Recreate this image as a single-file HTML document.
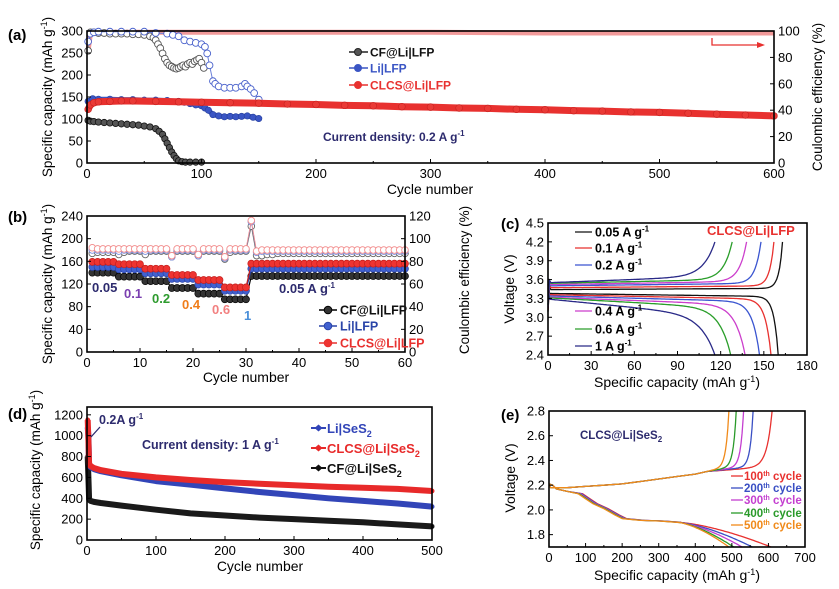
<!DOCTYPE html>
<html><head><meta charset="utf-8">
<style>
html,body{margin:0;padding:0;background:#fff;}
svg{display:block;font-family:"Liberation Sans",Arial,sans-serif;}
</style></head>
<body>
<svg id="fig" width="839" height="589" viewBox="0 0 839 589" xmlns="http://www.w3.org/2000/svg"></svg>
<script>
// ---------- Panel (a) data ----------
const aCfCapCyc=[1,3,6,10,15,20,25,30,35,40,45,50,55,60,63,66,68,70,72,74,76,78,80,83,86,90,95,100];
const aCfCap=[97,95,94,93,92,91,90,89,88,87,86,84,82,78,72,65,55,45,35,25,17,10,5,3,2,2,2,2];
const aCfCeCyc=[1,3,6,10,15,20,25,30,35,40,45,50,55,58,60,62,64,66,68,70,72,74,76,78,80,82,84,86,88,90,92,94,96,98,100,102];
const aCfCe=[85,99,99,98.5,98.5,98,98,98,98,97.5,97.5,97,96,95,93,90,87,83,79,76,74,73,72,71.5,72,73,74,73,75,76,75,77,78,79,76,72];
const aLiCapCyc=[1,5,10,20,30,40,50,60,70,80,85,90,95,100,103,106,110,115,120,125,130,135,140,145,150];
const aLiCap=[140,146,145,145,144,144,143,143,142,140,138,135,132,130,125,120,110,107,105,106,105,106,107,104,101];
const aLiCeCyc=[1,3,6,10,20,30,40,50,60,70,75,80,85,90,95,100,103,105,107,110,112,115,120,125,130,135,138,140,143,146,150];
const aLiCe=[92,98,99,99.5,99.5,99.5,99.5,99.5,98.5,98,97,96,93,92,91,90,88,83,74,62,60,58,57,57,57,58,60,58,56,53,48];
const aClCapCyc=[1,3,6,10,20,30,40,60,80,100,125,150,175,200,225,250,275,300,325,350,375,400,425,450,475,500,525,550,575,600];
const aClCap=[122,132,137,139,140,141,141,140,139,138,137,136,134,133,131,130,128,127,125,124,122,121,119,118,116,115,113,111,109,107];
const aClCeCyc=[1,3,10,100,200,300,400,500,600];
const aClCe=[85,98,99,99,99,99,98.5,98.5,98.5];
// ---------- Panel (b) data ----------
const bSegLen=[5,5,5,5,5,5,30];
const bCapCF=[140,133,125,113,103,93,134];
const bCapLi=[150,146,139,129,119,108,147];
const bCapCL=[159,155,147,136,127,114,156];
const bCeCL=[92,91,91,91,91,91,91,91,91,91,91,91,91,91,91,85,91,91,91,91,86,91,91,91,91,84,91,91,91,91,116,89,90,90,90,90,90,90,90,90,90,90,90,90,90,90,90,90,90,90,90,90,90,90,90,90,90,90,90,90];
const bCeLi=[90,90,90,90,90,89,90,90,90,90,89,90,90,90,90,84,90,90,90,90,85,90,90,90,90,83,90,90,90,90,115,88,89,89,89,89,89,89,89,89,89,89,89,89,89,89,89,89,89,89,89,89,89,89,89,89,89,89,89,89];
const bCeCF=[87,88,88,88,88,86,88,89,89,89,86,89,89,89,89,84,89,89,89,89,85,89,89,89,89,82,88,89,89,89,111,85,85,86,86,87,87,87,87,87,87,87,87,87,87,87,87,87,87,87,87,87,87,87,87,87,87,87,87,87];
const bRateLabels=['0.05','0.1','0.2','0.4','0.6','1'];
// ---------- Panel (c) data ----------
const cRates=['0.05','0.1','0.2','0.4','0.6','1'];
const cChgPlat=[3.44,3.47,3.50,3.52,3.54,3.55];
const cChgSlope=[0.02,0.03,0.04,0.05,0.06,0.10];
const cChgEnd=[163,157,148,138,128,116];
const cDisPlat=[3.38,3.36,3.34,3.32,3.31,3.29];
const cDisSlope=[0.05,0.07,0.09,0.12,0.16,0.26];
const cDisEnd=[160,155,147,137,127,116];
// ---------- Panel (d) data ----------
const dCyc=[1,2,3,5,10,20,50,100,150,200,250,300,350,400,450,500];
const dLi=[1080,1000,720,700,680,660,620,565,530,495,460,430,400,375,350,320];
const dCL=[1150,960,730,710,690,670,635,600,575,555,540,525,510,500,490,470];
const dCF=[800,600,390,375,365,355,330,290,255,235,215,200,185,170,150,130];
// ---------- Panel (e) data ----------
const eCycles=['100','200','300','400','500'];
const eChgEnd=[610,558,532,512,492];
const eDisEnd=[607,556,528,505,492];
const eChgQ=[5,50,100,150,200,250,300,350,400,430];
const eChgV=[2.18,2.18,2.19,2.20,2.21,2.23,2.25,2.27,2.29,2.31];
const eDisQ=[0,10,20,50,80,100,120,150,180,200,250,300,350];
const eDisV=[2.21,2.2,2.17,2.15,2.13,2.09,2.05,2.01,1.96,1.93,1.915,1.91,1.9];

const NS='http://www.w3.org/2000/svg';
const svg=document.getElementById('fig');
function mk(tag,attrs,parent){const e=document.createElementNS(NS,tag);for(const k in attrs)e.setAttribute(k,attrs[k]);(parent||svg).appendChild(e);return e;}
function txt(s,attrs,parent){const e=mk('text',attrs,parent);e.innerHTML=s;return e;}
function scale(d0,d1,r0,r1){return v=>r0+(v-d0)*(r1-r0)/(d1-d0);}
const SUP1='g<tspan font-size="9" dy="-5">-1</tspan><tspan dy="5">)</tspan>';

function axes(name,o){
  const g=mk('g',{});
  
  
  o.xticks.forEach(v=>{const x=o.sx(v);
    mk('line',{x1:x,x2:x,y1:o.yB,y2:o.yB-4,stroke:'#000','stroke-width':1},g);
    const t=txt(o.xfmt?o.xfmt(v):String(v),{x:x,y:o.yB+15,'text-anchor':'middle','font-size':13},g);
    
    
    if(o.xminor){const x2=o.sx(v+o.xminor);if(x2<o.x1){mk('line',{x1:x2,x2:x2,y1:o.yB,y2:o.yB-2,stroke:'#000'},g);}}
  });
  o.yticks.forEach(v=>{const y=o.sy(v);
    mk('line',{x1:o.x0,x2:o.x0+4,y1:y,y2:y,stroke:'#000','stroke-width':1},g);
    const t=txt(o.yfmt?o.yfmt(v):String(v),{x:o.x0-4,y:y+4.5,'text-anchor':'end','font-size':13},g);
    
    
  });
  if(o.rticks){o.rticks.forEach(v=>{const y=o.sr(v);
    mk('line',{x1:o.x1,x2:o.x1-4,y1:y,y2:y,stroke:'#000'},g);
    const t=txt(String(v),{x:o.x1+4,y:y+4.5,'font-size':13},g);
    
    
  });}
  const r=mk('rect',{x:o.x0,y:o.yT,width:o.x1-o.x0,height:o.yB-o.yT,fill:'none',stroke:'#000','stroke-width':1.6},g);
  
  return g;
}
function poly(pts,attrs,parent){return mk('polyline',Object.assign({points:pts.map(p=>p[0].toFixed(1)+','+p[1].toFixed(1)).join(' '),fill:'none'},attrs),parent);}
function label(s,x,y,attrs){const t=txt(s,Object.assign({x:x,y:y},attrs));return t;}
function ytitle(s,x,cy,fs){return txt(s,{x:0,y:0,'font-size':fs||14,'text-anchor':'middle',transform:`translate(${x},${cy}) rotate(-90)`});}

// ================= Panel (a) =================
const A={x0:87,x1:774,yT:31,yB:163};
A.sx=scale(0,600,A.x0,A.x1);A.sy=scale(0,300,A.yB,A.yT);A.sr=scale(0,100,A.yB,A.yT);
A.xticks=[0,100,200,300,400,500,600];A.yticks=[0,50,100,150,200,250,300];A.rticks=[0,20,40,60,80,100];A.xminor=50;
const gA=mk('g',{});


let s=poly(aClCeCyc.map((c,i)=>[A.sx(c),A.sr(aClCe[i])]),{stroke:'#f29a9a','stroke-width':5},gA);


const gCfCe=mk('g',{},gA);


poly(aCfCeCyc.map((c,i)=>[A.sx(c),A.sr(aCfCe[i])]),{stroke:'#777','stroke-width':1},gCfCe);
aCfCeCyc.forEach((c,i)=>{const p=mk('circle',{cx:A.sx(c),cy:A.sr(aCfCe[i]),r:3.4,fill:'#fff',stroke:'#555','stroke-width':0.9},gCfCe);
  });
const gLiCe=mk('g',{},gA);


poly(aLiCeCyc.map((c,i)=>[A.sx(c),A.sr(aLiCe[i])]),{stroke:'#6a7fd8','stroke-width':1},gLiCe);
aLiCeCyc.forEach((c,i)=>{const p=mk('circle',{cx:A.sx(c),cy:A.sr(aLiCe[i]),r:3.4,fill:'#fff',stroke:'#4a62cc','stroke-width':0.9},gLiCe);
  });
const gLiCap=mk('g',{},gA);


poly(aLiCapCyc.map((c,i)=>[A.sx(c),A.sy(aLiCap[i])]),{stroke:'#3a55c4','stroke-width':5},gLiCap);
aLiCapCyc.forEach((c,i)=>{const p=mk('circle',{cx:A.sx(c),cy:A.sy(aLiCap[i]),r:3.2,fill:'#3a55c4',stroke:'#27409e','stroke-width':0.6},gLiCap);
  });
const gClCap=mk('g',{},gA);


poly(aClCapCyc.map((c,i)=>[A.sx(c),A.sy(aClCap[i])]),{stroke:'#e8312f','stroke-width':7},gClCap);
aClCapCyc.forEach((c,i)=>{const p=mk('circle',{cx:A.sx(c),cy:A.sy(aClCap[i]),r:3.4,fill:'#ea3a36',stroke:'#c82220','stroke-width':0.6},gClCap);
  });
const gCfCap=mk('g',{},gA);


poly(aCfCapCyc.map((c,i)=>[A.sx(c),A.sy(aCfCap[i])]),{stroke:'#222','stroke-width':2.5},gCfCap);
aCfCapCyc.forEach((c,i)=>{const p=mk('circle',{cx:A.sx(c),cy:A.sy(aCfCap[i]),r:3.2,fill:'#555',stroke:'#111','stroke-width':0.8},gCfCap);
  });
axes('panel-a-axes',A);
s=mk('path',{d:'M712,38 V45 H760',fill:'none',stroke:'#e8312f','stroke-width':1.3});


s=mk('path',{d:'M765,45 L757,42 L757,48 Z',fill:'#e8312f'});


[['CF@Li|LFP','#222','#555',52],['Li|LFP','#3a55c4','#3a55c4',68],['CLCS@Li|LFP','#e8312f','#e8312f',85]].forEach(([n,c,f,y])=>{
  const g=mk('g',{});
  
  
  mk('line',{x1:349,x2:368,y1:y,y2:y,stroke:c,'stroke-width':1.5},g);
  mk('circle',{cx:358,cy:y,r:3.5,fill:f,stroke:c},g);
  txt(n,{x:370,y:y+4.5,'font-size':12,'font-weight':'bold',fill:c==='#222'?'#111':c},g);
});
s=label('Current density: 0.2 A g<tspan font-size="8" dy="-5">-1</tspan>',323,141,{'font-size':12,'font-weight':'bold',fill:'#2d2b6e'});


s=label('Cycle number',430,194,{'font-size':14,'text-anchor':'middle'});


s=ytitle('Specific capacity (mAh '+SUP1,52,97,13.5);


s=ytitle('Coulombic efficiency (%)',822,97,13.5);


s=label('(a)',8,40,{'font-size':15,'font-weight':'bold'});



// ================= Panel (b) =================
const B={x0:87,x1:405,yT:216,yB:352};
B.sx=scale(0,60,B.x0,B.x1);B.sy=scale(0,240,B.yB,B.yT);B.sr=scale(0,120,B.yB,B.yT);
B.xticks=[0,10,20,30,40,50,60];B.yticks=[0,40,80,120,160,200,240];B.rticks=[0,20,40,60,80,100,120];B.xminor=5;
function expand(vals){const out=[];vals.forEach((v,i)=>{for(let k=0;k<bSegLen[i];k++)out.push(v);});return out;}
function bCeSeries(name,arr,col){const g=mk('g',{});
  
  
  poly(arr.map((v,i)=>[B.sx(i+1),B.sr(v)]),{stroke:col,'stroke-width':0.8},g);
  arr.forEach((v,i)=>{const p=mk('circle',{cx:B.sx(i+1),cy:B.sr(v),r:3.3,fill:'#fff',stroke:col,'stroke-width':0.9},g);
    });}
bCeSeries('cf-ce-series-b',bCeCF,'#666');
bCeSeries('li-ce-series-b',bCeLi,'#7a8fe0');
bCeSeries('clcs-ce-series-b',bCeCL,'#f28c8c');
function bCapSeries(name,vals,col,dark){const arr=expand(vals);const g=mk('g',{});
  
  
  poly(arr.map((v,i)=>[B.sx(i+1),B.sy(v)]),{stroke:dark,'stroke-width':1.2},g);
  arr.forEach((v,i)=>{const p=mk('circle',{cx:B.sx(i+1),cy:B.sy(v),r:3.5,fill:col,stroke:dark,'stroke-width':0.7},g);
    });}
bCapSeries('cf-capacity-series-b',bCapCF,'#333','#000');
bCapSeries('li-capacity-series-b',bCapLi,'#4161d0','#2a44a8');
bCapSeries('clcs-capacity-series-b',bCapCL,'#ee3431','#c41e1c');
axes('panel-b-axes',B);
const bLabCol=['#2d2b6e','#7a3fb0','#2e9b2e','#f07d1a','#f28080','#4a8fd9'];
const bLabPos=[[92,292],[124,298],[152,303],[182,309],[212,314],[244,320]];
bRateLabels.forEach((l,i)=>{const t=label(l,bLabPos[i][0],bLabPos[i][1],{'font-size':13,'font-weight':'bold',fill:bLabCol[i]});
  
  });
s=label('0.05 A g<tspan font-size="8" dy="-5">-1</tspan>',279,293,{'font-size':13,'font-weight':'bold',fill:'#2d2b6e'});


[['CF@Li|LFP','#000','#333',310],['Li|LFP','#2a44a8','#4161d0',326],['CLCS@Li|LFP','#e8312f','#ee3431',343]].forEach(([n,c,f,y])=>{
  const g=mk('g',{});
  
  
  mk('line',{x1:319,x2:337,y1:y,y2:y,stroke:c,'stroke-width':1.5},g);
  mk('circle',{cx:328,cy:y,r:3.8,fill:f,stroke:c},g);
  txt(n,{x:340,y:y+4.5,'font-size':12.5,'font-weight':'bold',fill:c==='#000'?'#111':c},g);
});
s=label('Cycle number',246,382,{'font-size':14,'text-anchor':'middle'});


s=ytitle('Specific capacity (mAh '+SUP1,52,284,13.5);


s=ytitle('Coulombic efficiency (%)',469,280,13.5);


s=label('(b)',8,222,{'font-size':15,'font-weight':'bold'});



// ================= Panel (c) =================
const C={x0:548,x1:807,yT:223,yB:355};
C.sx=scale(0,180,C.x0,C.x1);C.sy=scale(2.4,4.5,C.yB,C.yT);
C.xticks=[0,30,60,90,120,150,180];C.yticks=[2.4,2.7,3.0,3.3,3.6,3.9,4.2,4.5];C.yfmt=v=>v.toFixed(1);C.xminor=15;
const cCol=['#111','#e8312f','#3a55d0','#cc3fcc','#2a9e2a','#2a2a88'];
const gC=mk('g',{});


cRates.forEach((r,i)=>{
  const kc=[2.5,3,4,5,6,8][i], kd=[3,4,5,7,8,10][i];
  const ch=[[C.sx(0),C.sy(cChgPlat[i]-0.35)],[C.sx(1),C.sy(cChgPlat[i]+0.04)]];
  for(let q=2;q<=cChgEnd[i];q+=1){const v=cChgPlat[i]+cChgSlope[i]*q/cChgEnd[i]+(4.2-cChgPlat[i]-cChgSlope[i])*Math.exp((q-cChgEnd[i])/kc);ch.push([C.sx(q),C.sy(Math.min(v,4.2))]);}
  let p=poly(ch,{stroke:cCol[i],'stroke-width':1.3},gC);
  
  
  const dc=[[C.sx(0),C.sy(cDisPlat[i]+0.15)],[C.sx(1),C.sy(cDisPlat[i])]];
  for(let q=2;q<=cDisEnd[i];q+=1){const v=cDisPlat[i]-cDisSlope[i]*q/cDisEnd[i]-(cDisPlat[i]-cDisSlope[i]-2.4)*Math.exp((q-cDisEnd[i])/kd);dc.push([C.sx(q),C.sy(Math.max(v,2.4))]);}
  p=poly(dc,{stroke:cCol[i],'stroke-width':1.3},gC);
  
  
});
axes('panel-c-axes',C);
const cLegY=[232,248,265,311,329,346];
cRates.forEach((r,i)=>{const g=mk('g',{});
  
  
  mk('line',{x1:575,x2:592,y1:cLegY[i],y2:cLegY[i],stroke:cCol[i],'stroke-width':1.3},g);
  txt(r+' A g<tspan font-size="8" dy="-5">-1</tspan>',{x:595,y:cLegY[i]+4.5,'font-size':12.5,'font-weight':'bold'},g);
});
s=label('CLCS@Li|LFP',707,235,{'font-size':13,'font-weight':'bold',fill:'#e8312f'});


s=label('Specific capacity (mAh '+SUP1,677,387,{'font-size':14,'text-anchor':'middle'});


s=ytitle('Voltage (V)',514,289,14);


s=label('(c)',501,229,{'font-size':15,'font-weight':'bold'});



// ================= Panel (d) =================
const D={x0:87,x1:432,yT:407,yB:540};
D.sx=scale(0,500,D.x0,D.x1);D.sy=scale(0,1275,D.yB,D.yT);
D.xticks=[0,100,200,300,400,500];D.yticks=[0,200,400,600,800,1000,1200];D.xminor=50;
function dSeries(name,vals,col){const g=mk('g',{});
  
  
  poly(dCyc.map((c,i)=>[D.sx(c),D.sy(vals[i])]),{stroke:col,'stroke-width':6,'stroke-linejoin':'round'},g);
  dCyc.forEach((c,i)=>{const p=mk('circle',{cx:D.sx(c),cy:D.sy(vals[i]),r:2.5,fill:col},g);
    });}
dSeries('cf-series-d',dCF,'#1a1a1a');
dSeries('li-series-d',dLi,'#3245b8');
dSeries('clcs-series-d',dCL,'#e82a2a');
axes('panel-d-axes',D);
s=label('0.2A g<tspan font-size="8" dy="-5">-1</tspan>',99,424,{'font-size':12.5,'font-weight':'bold',fill:'#2d2b6e'});


s=mk('line',{x1:100,y1:427,x2:91,y2:437,stroke:'#2d2b6e','stroke-width':1.3});


s=label('Current density: 1 A g<tspan font-size="8" dy="-5">-1</tspan>',142,449,{'font-size':12.5,'font-weight':'bold',fill:'#2d2b6e'});


[['Li|Se','#3245b8',428],['CLCS@Li|Se','#e82a2a',448],['CF@Li|Se','#111',468]].forEach(([n,c,y])=>{const g=mk('g',{});
  
  
  mk('line',{x1:311,x2:326,y1:y,y2:y,stroke:c,'stroke-width':2},g);
  mk('path',{d:`M${318.5-4},${y} L318.5,${y-3.5} L${318.5+4},${y} L318.5,${y+3.5} Z`,fill:c},g);
  txt(n+'S<tspan font-size="9" dy="4">2</tspan>',{x:327,y:y+5,'font-size':13,'font-weight':'bold',fill:c},g);
});
s=label('Cycle number',260,571,{'font-size':14,'text-anchor':'middle'});


s=ytitle('Specific capacity (mAh '+SUP1,40,470,13.5);


s=label('(d)',8,419,{'font-size':15,'font-weight':'bold'});



// ================= Panel (e) =================
const E={x0:549,x1:805,yT:411,yB:547};
E.sx=scale(0,700,E.x0,E.x1);E.sy=scale(1.7,2.8,E.yB,E.yT);
E.xticks=[0,100,200,300,400,500,600,700];E.yticks=[1.8,2.0,2.2,2.4,2.6,2.8];E.yfmt=v=>v.toFixed(1);E.xminor=50;
const eCol=['#e8312f','#3a4fc4','#c43fd0','#2a9a2a','#f08a1a'];
const gE=mk('g',{});


eCycles.forEach((c,i)=>{
  const k=i===0?14:8;
  const ch=eChgQ.map((q,j)=>[E.sx(q),E.sy(eChgV[j])]);
  ch.unshift([E.sx(0),E.sy(2.2)]);
  for(let q=435;q<=eChgEnd[i];q+=3){const v=2.31+0.04*(q-430)/(eChgEnd[i]-430)+0.45*Math.exp((q-eChgEnd[i])/k);ch.push([E.sx(q),E.sy(Math.min(v,2.8))]);}
  ch.push([E.sx(eChgEnd[i]),E.sy(2.8)]);
  let p=poly(ch,{stroke:eCol[i],'stroke-width':1.3},gE);
  
  
  const off=(4-i)*3;
  const dc=eDisQ.map((q,j)=>[E.sx(q+(q>60?off:0)),E.sy(eDisV[j])]);
  for(let q=360;q<=eDisEnd[i];q+=4){const f=(q-350)/(eDisEnd[i]-350);dc.push([E.sx(q),E.sy(1.9-0.2*Math.pow(f,1.5))]);}
  dc.push([E.sx(eDisEnd[i]),E.sy(1.7)]);
  p=poly(dc,{stroke:eCol[i],'stroke-width':1.3},gE);
  
  
});
axes('panel-e-axes',E);
const eLegY=[476,488,500,513,525];
eCycles.forEach((c,i)=>{const g=mk('g',{});
  
  
  mk('line',{x1:731,x2:743,y1:eLegY[i],y2:eLegY[i],stroke:eCol[i],'stroke-width':1.3},g);
  txt(c+'<tspan font-size="7" dy="-4">th</tspan><tspan dy="4"> cycle</tspan>',{x:744,y:eLegY[i]+4,'font-size':11.5,'font-weight':'bold',fill:eCol[i]},g);
});
s=label('CLCS@Li|SeS<tspan font-size="8" dy="3">2</tspan>',580,439,{'font-size':11.5,'font-weight':'bold',fill:'#2d2b6e'});


s=label('Specific capacity (mAh '+SUP1,677,580,{'font-size':14,'text-anchor':'middle'});


s=ytitle('Voltage (V)',515,478,14);


s=label('(e)',501,420,{'font-size':15,'font-weight':'bold'});


</script>
</body></html>
